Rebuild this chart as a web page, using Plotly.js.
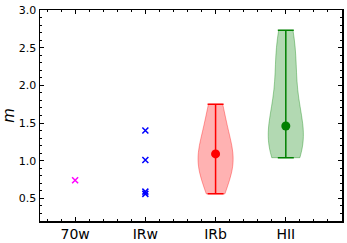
<!DOCTYPE html>
<html><head><meta charset="utf-8">
<script src="https://cdn.plot.ly/plotly-3.0.1.min.js"></script>
<style>body{margin:0;padding:0;background:#fff}#c{width:347px;height:243px}</style>
</head><body><div id="c"></div>
<script>
const categories = ["70w", "IRw", "IRb", "HII"];
const m70w = [0.74];
const mIRw = [1.40, 1.01, 0.59, 0.56];
const mIRb = [0.56, 0.75, 0.9, 1.0, 1.05, 1.15, 1.3, 1.55, 1.75];
const mHII = [1.04, 1.1, 1.2, 1.3, 1.4, 1.55, 1.75, 2.0, 2.3, 2.5, 2.73];
const meanIRb = 1.09;
const meanHII = 1.46;

function violin(data, p, rgb, bw) {
  return {
    type: 'violin', x0: p, y: data, name: categories[p],
    width: 0.5, spanmode: 'hard', bandwidth: bw, points: false,
    box: {visible: false}, meanline: {visible: false},
    fillcolor: 'rgba(' + rgb + ',0.3)',
    line: {color: 'rgba(' + rgb + ',0.35)', width: 1},
    hoverinfo: 'skip', showlegend: false
  };
}
function meanBar(data, mu, p, col) {
  const mx = Math.max(...data), mn = Math.min(...data);
  return {
    type: 'scatter', mode: 'markers', x: [p], y: [mu],
    marker: {color: col, size: 9, symbol: 'circle'},
    error_y: {type: 'data', symmetric: false, array: [mx - mu], arrayminus: [mu - mn],
              color: col, thickness: 1.5, width: 8},
    showlegend: false
  };
}

const traces = [
  violin(mIRb, 2, '255,0,0', 0.28),
  violin(mHII, 3, '0,128,0', 0.35),
  meanBar(mIRb, meanIRb, 2, '#ff0000'),
  meanBar(mHII, meanHII, 3, '#008000'),
  {type: 'scatter', mode: 'markers', x: m70w.map(() => 0), y: m70w,
   marker: {symbol: 'x-thin-open', size: 6, color: '#ff00ff', line: {color: '#ff00ff', width: 1.5}}, showlegend: false},
  {type: 'scatter', mode: 'markers', x: mIRw.map(() => 1), y: mIRw,
   marker: {symbol: 'x-thin-open', size: 6, color: '#0000ff', line: {color: '#0000ff', width: 1.5}}, showlegend: false}
];

const layout = {
  width: 347, height: 243,
  margin: {l: 40, r: 5, t: 10, b: 22},
  paper_bgcolor: '#fff', plot_bgcolor: '#fff',
  violinmode: 'overlay',
  font: {family: 'DejaVu Sans', color: '#000'},
  xaxis: {
    range: [-0.5, 3.8], tickmode: 'array', tickvals: [0, 1, 2, 3], ticktext: categories,
    ticks: 'inside', ticklen: 4, tickcolor: '#000', tickwidth: 1,
    showline: true, linecolor: '#000', linewidth: 1.5, mirror: 'allticks',
    showgrid: false, zeroline: false, tickfont: {size: 14},
    minor: {tickmode: 'linear', tick0: 0, dtick: 0.2, ticks: 'inside', ticklen: 2, tickcolor: '#000', showgrid: false}
  },
  yaxis: {
    range: [0.2, 3.0], tickmode: 'linear', tick0: 0, dtick: 0.5, tickformat: '.1f',
    ticks: 'inside', ticklen: 4, tickcolor: '#000', tickwidth: 1,
    showline: true, linecolor: '#000', linewidth: 1.5, mirror: 'allticks',
    showgrid: false, zeroline: false, tickfont: {size: 11},
    title: {text: '<i>m</i>', font: {size: 15}, standoff: 4},
    minor: {tickmode: 'linear', tick0: 0, dtick: 0.1, ticks: 'inside', ticklen: 2, tickcolor: '#000', showgrid: false}
  }
};
Plotly.newPlot('c', traces, layout, {staticPlot: true, displayModeBar: false});
</script></body></html>
